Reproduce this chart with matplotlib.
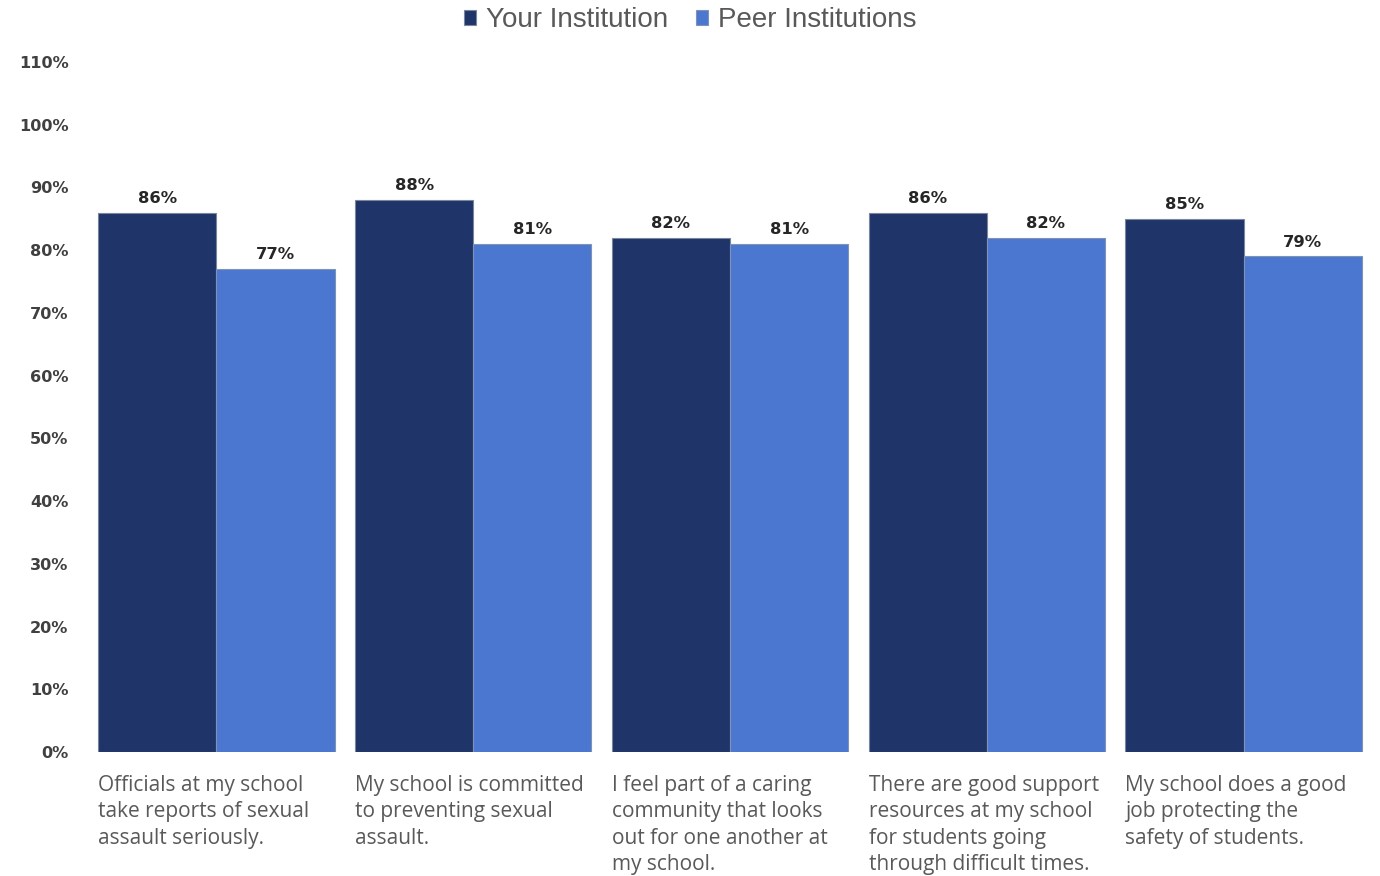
import matplotlib
matplotlib.use("Agg")
import matplotlib.pyplot as plt
import matplotlib.transforms as mtransforms
import numpy as np

categories = [
    "Officials at my school\ntake reports of sexual\nassault seriously.",
    "My school is committed\nto preventing sexual\nassault.",
    "I feel part of a caring\ncommunity that looks\nout for one another at\nmy school.",
    "There are good support\nresources at my school\nfor students going\nthrough difficult times.",
    "My school does a good\njob protecting the\nsafety of students.",
]
your_institution = [86, 88, 82, 86, 85]
peer_institutions = [77, 81, 81, 82, 79]
series_names = ["Your Institution", "Peer Institutions"]
y_ticks = list(range(0, 111, 10))

dark = "#1f3468"
light = "#4b77d0"

fig = plt.figure(figsize=(13.8, 8.76), dpi=100)
ax = fig.add_axes([88 / 1380, 1 - 752 / 876, (1372 - 88) / 1380, (752 - 62) / 876])

x = np.arange(len(categories))
w = 0.46
b1 = ax.bar(x - w / 2, your_institution, w, color=dark, edgecolor="#7a869c", linewidth=0.8,
            label=series_names[0], zorder=2)
b2 = ax.bar(x + w / 2, peer_institutions, w, color=light, edgecolor="#7f93b8", linewidth=0.8,
            label=series_names[1], zorder=2)

for bars, vals in ((b1, your_institution), (b2, peer_institutions)):
    for r, v in zip(bars, vals):
        ax.annotate(f"{v}%", (r.get_x() + r.get_width() / 2, v), xytext=(0, 5),
                    textcoords="offset points", ha="center", va="bottom",
                    fontsize=11.8, fontweight="bold", color="#262626", family="DejaVu Sans")

ax.set_ylim(0, 110)
ax.set_xlim(-0.5, len(categories) - 0.5)
ax.set_yticks(y_ticks)
ax.set_yticklabels([f"{t}%" for t in y_ticks], fontsize=11.6, fontweight="bold",
                   color="#404040", family="DejaVu Sans")
ax.tick_params(axis="y", length=0, pad=14)
ax.set_xticks([])
for s in ax.spines.values():
    s.set_visible(False)

trans = mtransforms.blended_transform_factory(ax.transData, fig.transFigure)
for i, c in enumerate(categories):
    ax.text(i - w, 1 - 775 / 876, c, transform=trans, ha="left", va="top",
            fontsize=15, color="#595959", family="Open Sans", linespacing=1.33)

leg = fig.legend(handles=[b1, b2], labels=series_names, loc="center",
                 bbox_to_anchor=(690 / 1380, 1 - 20 / 876), ncol=2, frameon=False,
                 prop={"family": "Liberation Sans", "size": 20}, handlelength=0.45,
                 handleheight=0.45, handletextpad=0.35, columnspacing=1.0)
for t in leg.get_texts():
    t.set_color("#595959")

fig.savefig("out.png", dpi=100)
